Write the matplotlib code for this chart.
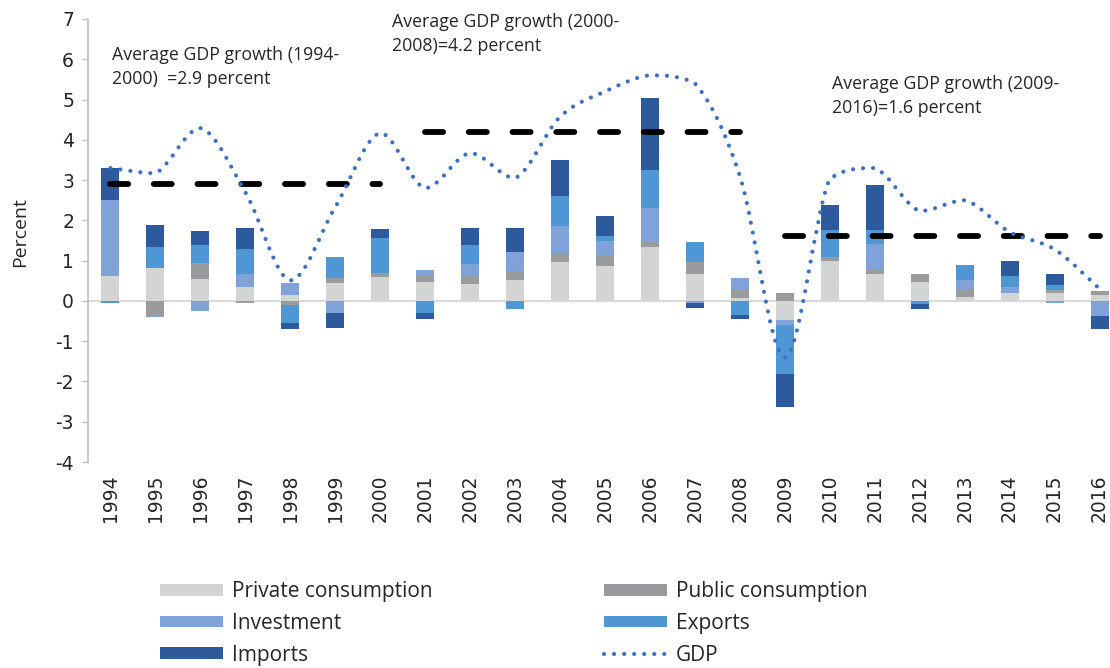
import numpy as np
import matplotlib
matplotlib.use("Agg")
import matplotlib.pyplot as plt
from matplotlib.path import Path
from matplotlib.patches import PathPatch, Patch
from matplotlib.lines import Line2D

plt.rcParams["axes.unicode_minus"] = False

# contributions to growth, percentage points (1994-2016)
years = [str(y) for y in range(1994, 2017)]
private = [0.63, 0.82, 0.55, 0.35, 0.15, 0.45, 0.60, 0.48, 0.43, 0.53, 0.96, 0.86,
           1.35, 0.68, 0.08, -0.47, 1.00, 0.67, 0.48, 0.10, 0.19, 0.19, 0.15]
public = [0.00, -0.35, 0.38, -0.05, -0.10, 0.12, 0.09, 0.14, 0.22, 0.22, 0.24, 0.28,
          0.12, 0.28, 0.20, 0.19, 0.10, 0.10, 0.20, 0.16, 0.00, 0.08, 0.10]
investment = [1.88, -0.05, -0.25, 0.32, 0.29, -0.31, 0.00, 0.14, 0.27, 0.47, 0.67, 0.34,
              0.83, -0.05, 0.28, -0.12, 0.00, 0.64, 0.00, 0.25, 0.15, -0.05, -0.38]
exports = [-0.05, 0.53, 0.46, 0.63, -0.45, 0.53, 0.86, -0.31, 0.46, -0.21, 0.74, 0.14,
           0.95, 0.50, -0.35, -1.23, 0.66, 0.35, -0.08, 0.37, 0.28, 0.13, 0.00]
imports = [0.79, 0.53, 0.34, 0.51, -0.14, -0.37, 0.23, -0.13, 0.43, 0.60, 0.90, 0.50,
           1.78, -0.13, -0.10, -0.81, 0.62, 1.12, -0.12, 0.00, 0.37, 0.27, -0.32]
gdp = [3.30, 3.17, 4.29, 2.70, 0.51, 2.33, 4.17, 2.80, 3.67, 3.05, 4.57, 5.20,
       5.60, 5.40, 3.10, -1.40, 3.03, 3.30, 2.23, 2.50, 1.71, 1.28, 0.30]

# period averages: (first year, last year, value)
avg_start = ["1994", "2001", "2009"]
avg_end = ["2000", "2008", "2016"]
avg_value = [2.9, 4.2, 1.6]
avg_text = ["Average GDP growth (1994-\n2000)  =2.9 percent",
            "Average GDP growth (2000-\n2008)=4.2 percent",
            "Average GDP growth (2009-\n2016)=1.6 percent"]

series = [("Private consumption", private, "#d3d5d4"),
          ("Public consumption", public, "#9a9b9c"),
          ("Investment", investment, "#7fa3d8"),
          ("Exports", exports, "#4f97d4"),
          ("Imports", imports, "#2c5a9d")]
gdp_color = "#3a70c6"
text_color = "#262626"


def smooth_path(x, y):
    # bezier path through the points (smoothed line), control points kept
    # inside each segment's value range so the curve does not overshoot
    verts = [(x[0], y[0])]
    codes = [Path.MOVETO]
    n = len(x)
    for i in range(n - 1):
        xp, yp = (x[i - 1], y[i - 1]) if i > 0 else (x[i], y[i])
        xn, yn = (x[i + 2], y[i + 2]) if i + 2 < n else (x[i + 1], y[i + 1])
        lo, hi = min(y[i], y[i + 1]), max(y[i], y[i + 1])
        c1 = (x[i] + (x[i + 1] - xp) / 6,
              np.clip(y[i] + (y[i + 1] - yp) / 6, lo, hi))
        c2 = (x[i + 1] - (xn - x[i]) / 6,
              np.clip(y[i + 1] - (yn - y[i]) / 6, lo, hi))
        verts += [c1, c2, (x[i + 1], y[i + 1])]
        codes += [Path.CURVE4] * 3
    return Path(verts, codes)


W, H = 1110, 668
fig = plt.figure(figsize=(W / 100, H / 100), dpi=100)
ax = fig.add_axes([88 / W, 1 - 462 / H, (1122 - 88) / W, (462 - 19) / H])

x = np.arange(len(years))
pos_base = np.zeros(len(years))
neg_base = np.zeros(len(years))
handles = []
for name, vals, col in series:
    v = np.array(vals)
    pos = np.where(v > 0, v, 0)
    neg = np.where(v < 0, v, 0)
    ax.bar(x, pos, 0.4, bottom=pos_base, color=col, zorder=2)
    ax.bar(x, neg, 0.4, bottom=neg_base, color=col, zorder=2)
    pos_base += pos
    neg_base += neg
    handles.append(Patch(facecolor=col, label=name))

ax.axhline(0, color="#d9d9d9", lw=1.5, zorder=1)

# period average lines
dash = (0, (3.1, 4.4))
for s, e, v in zip(avg_start, avg_end, avg_value):
    i0, i1 = years.index(s), years.index(e)
    ax.plot([i0, i1], [v, v], color="black", lw=4.2, linestyle=dash,
            dash_capstyle="round", zorder=4)

# GDP smoothed dotted line
dots = (0, (0.01, 2.4))
gpath = smooth_path(list(x), gdp)
ax.add_patch(PathPatch(gpath, fill=False, edgecolor=gdp_color, lw=3,
                       linestyle=dots, capstyle="round", zorder=5))
handles.append(Line2D([], [], color=gdp_color, lw=3, linestyle=dots,
                      dash_capstyle="round", label="GDP"))

ax.set_xlim(-0.5, 22.5)
ax.set_ylim(-4, 7)
ax.set_yticks(range(-4, 8))
ax.set_xticks(x)
ax.set_xticklabels(years, rotation=90, fontsize=13.5, color=text_color)
ax.tick_params(axis="x", length=0, pad=9)
ax.tick_params(axis="y", length=4, width=1, color="#bfbfbf", pad=6,
               labelsize=13.5, labelcolor=text_color)
for sp in ["top", "right", "bottom"]:
    ax.spines[sp].set_visible(False)
ax.spines["left"].set_color("#bfbfbf")
ax.spines["left"].set_linewidth(1.2)

fig.text(20 / W, 1 - 232 / H, "Percent", rotation=90, ha="center", va="center",
         fontsize=14, family="Open Sans", color=text_color)

# annotations (x in category units, y in percent)
txt_x = [0.04, 6.27, 16.06]
txt_y = [5.81, 6.63, 5.09]
for tx, ty, t in zip(txt_x, txt_y, avg_text):
    ax.text(tx, ty, t, ha="left", va="center", fontsize=12.8, family="Open Sans",
            color=text_color, linespacing=1.42, zorder=6)

order = [0, 2, 4, 1, 3, 5]
fig.legend([handles[i] for i in order], [handles[i].get_label() for i in order],
           loc="upper left", bbox_to_anchor=(160 / W, 1 - 581 / H), ncol=2,
           frameon=False, borderpad=0, borderaxespad=0, handlelength=3.03,
           handleheight=0.5, handletextpad=0.43, columnspacing=8.2,
           labelspacing=0.52, prop={"family": "Open Sans", "size": 15},
           labelcolor=text_color)

fig.savefig("out.png", dpi=100)
